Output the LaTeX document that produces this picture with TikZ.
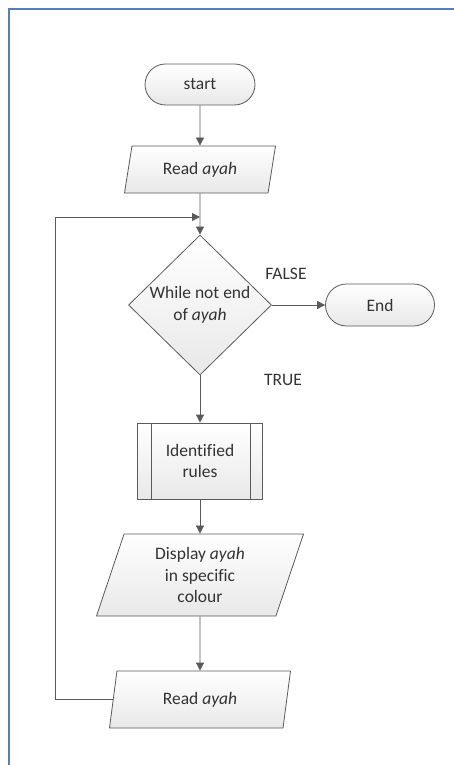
\documentclass[tikz,border=0pt]{standalone}
\usepackage{fontspec}
\setmainfont{Carlito}[Ligatures=CommonOff]
\usetikzlibrary{arrows.meta,shapes.geometric,shapes.misc,calc,positioning}
\definecolor{linegray}{HTML}{5A5A5A}
\definecolor{framebl}{HTML}{4F81BD}
\tikzstyle{txt}     =[font=\fontsize{17.5}{21.5}\selectfont, text=black!80,
                      align=center]
\tikzstyle{base}    =[txt, draw=linegray, line width=0.8pt, inner sep=0pt,
                      top color=white, bottom color=black!9]
\tikzstyle{terminal}=[base, rounded rectangle, minimum width=110pt,
                      minimum height=41pt]
\tikzstyle{inout}   =[base, trapezium, trapezium left angle=63.5,
                      trapezium right angle=116.5, trapezium stretches body]
\tikzstyle{decision}=[base, diamond, minimum width=143pt,
                      minimum height=140pt]
\tikzstyle{process} =[base, rectangle, minimum width=125pt,
                      minimum height=76pt]
\tikzstyle{flow}    =[draw=linegray, line width=0.8pt,
                      -{Triangle[length=8pt, width=8pt]}]
\tikzstyle{branch}  =[txt, inner sep=0pt]
\begin{document}
\begin{tikzpicture}[x=1pt, y=1pt, node distance=1cm, on grid]
    \useasboundingbox (0,0) rectangle (454,-765);
    \draw[framebl, line width=2pt] (454,-9) -- (9,-9) -- (9,-765);
    \begin{scope}
        \node (start) [terminal] at (200,-84.5) {start};
        \node (read) [inout, minimum width=151pt, minimum height=47pt,
              below=85pt of start] {Read \textit{ayah}};
        \node (cond) [decision, below=135.5pt of read,
              label={[name=condtext, txt]center:While not end\\of \textit{ayah}}] {};
        \node (rules) [process, below=156pt of cond] {Identified\\rules};
        \node (show) [inout, minimum width=207pt, minimum height=82pt,
              below=114pt of rules] {Display \textit{ayah}\\in specific\\colour};
        \node (reread) [inout, minimum width=181pt, minimum height=57pt,
              below=124.5pt of show] {Read \textit{ayah}};
        \node (end) [terminal, minimum width=109pt, minimum height=42pt,
              right=180pt of cond] {End};
        \node (false) [branch] at (286,-274) {FALSE};
        \node (true) [branch] at (283,-380) {TRUE};
        \coordinate (merge) at (200,-217);
        \coordinate (back) at (55,-217);
        \draw[linegray, line width=0.8pt] ($(rules.north west)+(14,0)$)
            -- ($(rules.south west)+(14,0)$);
        \draw[linegray, line width=0.8pt] ($(rules.north east)+(-13,0)$)
            -- ($(rules.south east)+(-13,0)$);
        \draw[flow] (start) -- (read);
        \draw[flow] (read) -- (cond);
        \draw[flow] (cond) -- (end);
        \draw[flow] (cond) -- (rules);
        \draw[flow] (rules) -- (show);
        \draw[flow] (show) -- (reread);
        \draw[flow] (reread.west) -| (back) -- (merge);
    \end{scope}
\end{tikzpicture}
\end{document}
